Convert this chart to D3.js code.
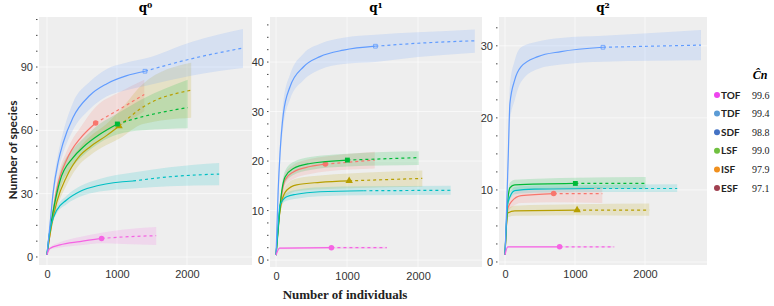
<!DOCTYPE html>
<html>
<head>
<meta charset="utf-8">
<script src="https://cdn.jsdelivr.net/npm/d3@7"></script>
<style>
  body { margin: 0; background: #fff; }
  svg { display: block; }
</style>
</head>
<body>
<div id="chart"></div>
<script>
// series order: red, olive, green, cyan, blue, magenta
const seriesColors = ["#F8766D", "#B79F00", "#00BA38", "#00BFC4", "#619CFF", "#F564E3"];
const seriesShapes = ["circle", "triangle", "square", "none", "openSquare", "circle"];
const sampleSizes = [695, 1030, 1005, 1230, 1400, 780];

// [individuals, species, lower CI, upper CI]
const q0Red = [[0,1,1,1],[65,16,14,18],[137,31.5,28,35],[280,46,42,50],[350,50.5,46,55],[470,56,51,61],[695,63.5,57,71],[1035,70,62,78],[1390,77,69,84]];
const q0Olive = [[0,1,1,1],[66,15,13,17],[140,26,23,29],[280,38,34,42],[470,48,44,52],[610,52,48,57],[850,57.5,53,63],[1030,62,56,69],[1370,71,63,82],[2060,79,66,92]];
const q0Green = [[0,1,1,1],[43,13,11,15],[90,22,19,25],[185,36,32,40],[370,47,43,51],[515,52,48,56],[750,58,54,63],[1005,63,58,68],[1370,66.5,60,75],[2010,70.8,61,84]];
const q0Cyan = [[0,1,1,1],[30,10,9,11],[66,16,15,17.5],[137,22,20.5,23.5],[280,27,25,29],[470,31,28.5,33.5],[750,34,31,37],[1230,36,32.5,40],[1750,38,33.5,42.5],[2460,39.3,34,44.5]];
const q0Blue = [[0,1,1,1],[45,16,14,18],[90,31,28,34],[160,45,41,49],[230,54,49,59],[370,66,60,73],[610,76.5,70,83],[850,82,76,89],[1130,85.8,79,92],[1400,88,81,94],[2075,94,86,102],[2800,99,89.5,108]];
const q0Magenta = [[0,1,1,1],[40,4,3.5,4.5],[185,5.7,4.5,7],[470,7.3,5.5,9.5],[780,8.8,6.5,11.5],[1100,9.5,6.2,13],[1560,10.1,5.7,14.2]];

const q1Red = [[0,1,1,1],[56,10.5,9.8,11.2],[127,16.2,15,17.4],[244,17.8,16.4,19.2],[480,18.9,17.4,20.4],[695,19.4,17.9,20.9],[1390,20.2,18.5,21.9]];
const q1Olive = [[0,1,1,1],[40,8,7.3,8.7],[80,11.8,10.8,12.8],[150,14.1,12.9,15.3],[290,15.2,13.9,16.5],[620,15.7,14.3,17.1],[1030,16,14.5,17.5],[2060,16.5,14.8,18.1]];
const q1Green = [[0,1,1,1],[30,6,5.5,6.5],[56,10.8,10,11.6],[127,16.8,15.5,18],[244,18.5,17.2,19.8],[480,19.5,18.2,20.8],[1005,20.2,18.9,21.5],[2010,20.7,19.2,22]];
const q1Cyan = [[0,1,1,1],[30,7,6.6,7.4],[56,11.1,10.6,11.6],[150,12.8,12,13.6],[290,13.3,12.4,14.2],[620,13.8,12.9,14.7],[1230,14,13.1,14.9],[2460,14.1,13.2,15]];
const q1Blue = [[0,1,1,1],[30,14,12,16],[56,21.5,19.5,23.5],[103,29.5,27,32],[197,35,32.5,37.5],[385,39,36.3,41.7],[620,41.1,38.5,43.7],[950,42.4,39.6,44.9],[1400,43.2,40,45.5],[2000,43.8,41,46],[2800,44.3,41.9,46.6]];
const q1Magenta = [[0,1,1,1],[50,2.4,2.2,2.6],[780,2.5,2.3,2.7],[1560,2.5,2.3,2.7]];

const q2Red = [[0,1,1,1],[40,7.4,6.8,8],[95,8.4,7.6,9.2],[230,9.2,8.2,10.1],[695,9.5,8.3,10.3],[1390,9.5,8.2,10.4]];
const q2Olive = [[0,1,1,1],[40,6.8,6.2,7.4],[140,7.1,6.4,7.8],[1030,7.2,6.5,8],[2060,7.2,6.4,8.1]];
const q2Green = [[0,1,1,1],[40,8.5,8,9],[70,10.3,9.6,11],[140,10.7,10,11.4],[1005,10.9,10.2,11.7],[2010,10.9,10.1,11.8]];
const q2Cyan = [[0,1,1,1],[40,8.2,7.8,8.6],[140,9.9,9.4,10.4],[420,10.1,9.6,10.6],[1230,10.2,9.7,10.7],[2460,10.2,9.7,10.8]];
const q2Blue = [[0,1,1,1],[25,8,7,9],[47,15,13.5,16.5],[70,22,19.5,24.5],[140,25.3,22.5,28],[230,27.1,25,29.8],[470,28.5,26.8,30.6],[800,29.2,27.4,31.1],[1400,29.8,27.8,31.4],[2800,30.1,28,32.2]];
const q2Magenta = [[0,1,1,1],[40,2.1,2,2.2],[780,2.1,2,2.2],[1560,2.1,2,2.2]];

const xTicks = [0, 1000, 2000];
const q0YTicks = [0, 30, 60, 90];
const q1YTicks = [0, 10, 20, 30, 40];
const q2YTicks = [0, 10, 20, 30];

const legendLabels = ["TOF", "TDF", "SDF", "LSF", "ISF", "ESF"];
const legendValues = ["99.6", "99.4", "98.8", "99.0", "97.9", "97.1"];
const legendColors = ["#EE44EE", "#5B9BD5", "#4472C4", "#70C040", "#F0901E", "#A04050"];

(function chart(){

  const width = 774, height = 306;

  const panels = [
    { title: "q\u2070", series: [q0Red, q0Olive, q0Green, q0Cyan, q0Blue, q0Magenta], yTicks: q0YTicks, minor: 7.5,
      x0: 39, x1: 252, y0: 17, y1: 265, xDom: [-114, 2929], yDom: [-3.8, 113.7] },
    { title: "q\u00b9", series: [q1Red, q1Olive, q1Green, q1Cyan, q1Blue, q1Magenta], yTicks: q1YTicks, minor: 2.5,
      x0: 270, x1: 482, y0: 17, y1: 267, xDom: [-85, 2901], yDom: [-1.4, 49.1] },
    { title: "q\u00b2", series: [q2Red, q2Olive, q2Green, q2Cyan, q2Blue, q2Magenta], yTicks: q2YTicks, minor: 2.5,
      x0: 499, x1: 707, y0: 17, y1: 265, xDom: [-86, 2886], yDom: [-0.42, 34] }
  ];

  const svg = d3.select("#chart")
    .append("svg")
    .attr("width", width)
    .attr("height", height)
    .attr("font-family", "Lato, 'Open Sans', sans-serif");

  panels.forEach((p, pi) => {
    const x = d3.scaleLinear().domain(p.xDom).range([p.x0, p.x1]);
    const y = d3.scaleLinear().domain(p.yDom).range([p.y1, p.y0]);

    const g = svg.append("g");

    g.append("rect")
      .attr("x", p.x0).attr("y", p.y0)
      .attr("width", p.x1 - p.x0).attr("height", p.y1 - p.y0)
      .attr("fill", "#eeeeee");

    // faint white grid
    g.append("g")
      .selectAll("line")
      .data(p.yTicks)
      .join("line")
      .attr("x1", p.x0).attr("x2", p.x1)
      .attr("y1", d => y(d)).attr("y2", d => y(d))
      .attr("stroke", "#fff").attr("stroke-opacity", 0.6);
    g.append("g")
      .selectAll("line")
      .data(xTicks)
      .join("line")
      .attr("y1", p.y0).attr("y2", p.y1)
      .attr("x1", d => x(d)).attr("x2", d => x(d))
      .attr("stroke", "#fff").attr("stroke-opacity", 0.6);

    svg.append("clipPath").attr("id", "clip" + pi)
      .append("rect")
      .attr("x", p.x0).attr("y", p.y0)
      .attr("width", p.x1 - p.x0).attr("height", p.y1 - p.y0);

    const plot = g.append("g").attr("clip-path", `url(#clip${pi})`);

    const area = d3.area()
      .x(d => x(d[0])).y0(d => y(d[2])).y1(d => y(d[3]))
      .curve(d3.curveMonotoneX);
    const line = d3.line()
      .x(d => x(d[0])).y(d => y(d[1]))
      .curve(d3.curveMonotoneX);

    plot.append("g")
      .selectAll("path")
      .data(p.series)
      .join("path")
      .attr("fill", (d, i) => seriesColors[i])
      .attr("fill-opacity", 0.17)
      .attr("d", area);

    p.series.forEach((s, i) => {
      const ss = sampleSizes[i];
      plot.append("path")
        .attr("fill", "none")
        .attr("stroke", seriesColors[i])
        .attr("stroke-width", 1.2)
        .attr("d", line(s.filter(d => d[0] <= ss)));
      plot.append("path")
        .attr("fill", "none")
        .attr("stroke", seriesColors[i])
        .attr("stroke-width", 1.2)
        .attr("stroke-dasharray", "3,3")
        .attr("d", line(s.filter(d => d[0] >= ss)));

      const obs = s.find(d => d[0] === ss);
      const shape = seriesShapes[i];
      if (obs && shape !== "none") {
        const sym = shape === "circle" ? d3.symbolCircle : shape === "triangle" ? d3.symbolTriangle : d3.symbolSquare;
        const open = shape === "openSquare";
        plot.append("path")
          .attr("transform", `translate(${x(obs[0])},${y(obs[1])})`)
          .attr("d", d3.symbol().type(sym).size(open ? 14 : 24)())
          .attr("fill", open ? "none" : seriesColors[i])
          .attr("stroke", open ? seriesColors[i] : "none")
          .attr("stroke-width", 0.8);
      }
    });

    // y axis labels + minor dots
    const yAxis = g.append("g")
      .attr("transform", `translate(${p.x0},0)`)
      .call(d3.axisLeft(y).tickValues(p.yTicks).tickSize(0).tickPadding(6));
    yAxis.select(".domain").remove();
    yAxis.selectAll("text").attr("font-size", 11).attr("fill", "#333");

    const minorTicks = d3.range(0, p.yDom[1], p.minor);
    g.append("g")
      .selectAll("line")
      .data(minorTicks)
      .join("line")
      .attr("x1", p.x0 - 3).attr("x2", p.x0 - 1.5)
      .attr("y1", d => y(d)).attr("y2", d => y(d))
      .attr("stroke", "#444");

    const xAxis = g.append("g")
      .attr("transform", `translate(0,${p.y1})`)
      .call(d3.axisBottom(x).tickValues(xTicks).tickFormat(d3.format("d")).tickSize(0).tickPadding(5));
    xAxis.select(".domain").remove();
    xAxis.selectAll("text").attr("font-size", 11).attr("fill", "#333");

    g.append("text")
      .attr("x", (p.x0 + p.x1) / 2)
      .attr("y", 12)
      .attr("text-anchor", "middle")
      .attr("font-family", "'DejaVu Serif', serif")
      .attr("font-weight", "bold")
      .attr("font-size", 12)
      .text(p.title);
  });

  svg.append("text")
    .attr("transform", "translate(17,150) rotate(-90)")
    .attr("text-anchor", "middle")
    .attr("font-weight", "bold")
    .attr("font-size", 12)
    .attr("fill", "#222")
    .text("Number of species");

  svg.append("text")
    .attr("x", 345)
    .attr("y", 299)
    .attr("text-anchor", "middle")
    .attr("font-family", "'Liberation Serif', serif")
    .attr("font-weight", "bold")
    .attr("font-size", 13)
    .attr("fill", "#222")
    .text("Number of individuals");

  // legend
  const legend = svg.append("g");
  legend.append("text")
    .attr("x", 760).attr("y", 79)
    .attr("text-anchor", "middle")
    .attr("font-family", "'Liberation Serif', serif")
    .attr("font-style", "italic")
    .attr("font-weight", "bold")
    .attr("font-size", 12)
    .text("\u0108n");

  const legendY = d3.scalePoint().domain(legendLabels).range([95, 188]);
  const rows = legend.selectAll("g.row")
    .data(legendLabels)
    .join("g")
    .attr("class", "row")
    .attr("transform", d => `translate(0,${legendY(d)})`);
  rows.append("circle")
    .attr("cx", 717).attr("cy", 0).attr("r", 3)
    .attr("fill", (d, i) => legendColors[i]);
  rows.append("text")
    .attr("x", 721).attr("y", 3.5)
    .attr("font-weight", "bold")
    .attr("font-size", 10)
    .attr("fill", "#222")
    .text(d => d);
  rows.append("text")
    .attr("x", 752).attr("y", 3.5)
    .attr("font-family", "'Liberation Serif', serif")
    .attr("font-size", 10)
    .attr("fill", "#222")
    .text((d, i) => legendValues[i]);

})();
</script>
</body>
</html>
